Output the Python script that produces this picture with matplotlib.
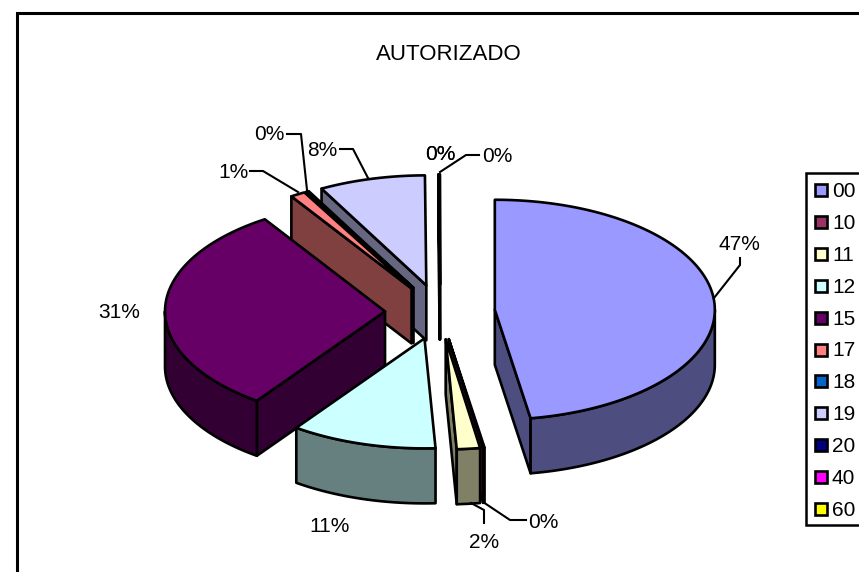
import numpy as np
import matplotlib
matplotlib.use("Agg")
import matplotlib.pyplot as plt
from matplotlib.patches import Rectangle, Polygon

plt.rcParams['font.family'] = ['Liberation Sans', 'DejaVu Sans']

title = "AUTORIZADO"
categories = ["00", "10", "11", "12", "15", "17", "18", "19", "20", "40", "60"]
values = [47.4, 0.1, 1.7, 10.7, 30.9, 1.1, 0.2, 7.8, 0.05, 0.03, 0.02]
colors = ["#9999FF", "#993366", "#FFFFCC", "#CCFFFF", "#660066", "#FF8080",
          "#0066CC", "#CCCCFF", "#000080", "#FF00FF", "#FFFF00"]
sides = ["#4D4D80", "#4D1A33", "#808066", "#668080", "#330033", "#804040",
         "#003366", "#666680", "#000040", "#800080", "#808000"]
draw_order = ["20", "40", "60", "19", "18", "17", "15", "00", "10", "11", "12"]

# label centre, leader points (label layout)
labels = {
    "00": ((739, 245), [(714, 298), (740, 265), (740, 258)]),
    "10": ((543, 522), [(483, 502), (510, 520), (526, 520)]),
    "11": ((484, 542), [(471, 503), (484, 510), (484, 523)]),
    "12": ((330, 526), None),
    "15": ((119, 312), None),
    "17": ((233, 172), [(298, 192), (263, 171), (250, 171)]),
    "18": ((269, 135), [(307, 190), (301, 134), (287, 134)]),
    "19": ((322, 150), [(368, 178), (353, 149), (340, 149)]),
    "20": ((440, 155), None),
    "40": ((440, 155), None),
    "60": ((497, 156), [(440, 172), (466, 155), (479, 155)]),
}

CX, CY, RX, RY, DEPTH, EXPLODE = 440, 312, 220, 110, 55, 0.25
LW = 1.9
FS = 15

fig = plt.figure(figsize=(8.59, 5.72), dpi=100)
ax = fig.add_axes([0, 0, 1, 1])
ax.set_xlim(0, 859)
ax.set_ylim(572, 0)
ax.axis("off")

# chart frame
ax.plot([870, 17, 17], [13, 13, 580], color="black", lw=2.2, solid_joinstyle="miter")
ax.text(449, 55, title, ha="center", va="center", fontsize=16, color="black")

total = sum(values)
edges = np.concatenate([[0], np.cumsum(values)]) / total * 360.0


def rim(apex, deg):
    a = np.radians(deg)
    return apex[0] + RX * np.sin(a), apex[1] - RY * np.cos(a)


def arc(apex, a0, a1):
    n = max(2, int(abs(a1 - a0)) + 2)
    return [rim(apex, d) for d in np.linspace(a0, a1, n)]


def face(pts, color, z):
    ax.add_patch(Polygon(pts, closed=True, facecolor=color, edgecolor="black",
                         lw=LW, joinstyle="round", zorder=z))


for z, name in enumerate(draw_order):
    i = categories.index(name)
    a0, a1 = edges[i], edges[i + 1]
    mid = np.radians((a0 + a1) / 2)
    apex = (CX + EXPLODE * RX * np.sin(mid), CY - EXPLODE * RY * np.cos(mid))
    base = 10 + z * 4
    down = lambda p: (p[0], p[1] + DEPTH)
    # start radial wall (visible on the left half)
    if a0 >= 180:
        r = rim(apex, a0)
        face([apex, r, down(r), down(apex)], sides[i], base)
    # end radial wall (visible on the right half)
    if a1 <= 180:
        r = rim(apex, a1)
        face([apex, r, down(r), down(apex)], sides[i], base)
    # outer wall on the front half of the ellipse
    lo, hi = max(a0, 90), min(a1, 270)
    if hi > lo:
        top = arc(apex, lo, hi)
        face(top + [down(p) for p in reversed(top)], sides[i], base + 1)
    # top face
    face([apex] + arc(apex, a0, a1), colors[i], base + 2)

# data labels and leader lines
for i, name in enumerate(categories):
    (lx, ly), leader = labels[name]
    ax.text(lx, ly, f"{round(values[i])}%", ha="center", va="center",
            fontsize=FS, color="black", zorder=100)
    if leader:
        xs, ys = zip(*leader)
        ax.plot(xs, ys, color="black", lw=1.5, zorder=99)

# legend
ax.plot([870, 806, 806, 870], [173, 173, 525, 525], color="black", lw=1.8,
        solid_joinstyle="miter", zorder=100)
for i, name in enumerate(categories):
    y = 190 + i * 31.9
    ax.add_patch(Rectangle((814.5, y - 6), 12, 12, facecolor=colors[i],
                           edgecolor="black", lw=1.9, zorder=100))
    ax.text(832, y + 1.5, name, ha="left", va="center", fontsize=FS,
            color="black", zorder=100)

fig.savefig("out.png", dpi=100)
